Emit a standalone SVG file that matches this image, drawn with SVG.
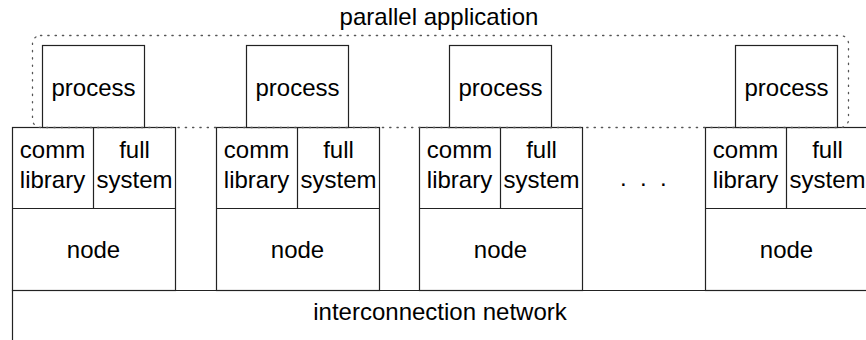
<svg xmlns="http://www.w3.org/2000/svg" width="866" height="340" viewBox="0 0 866 340">
<style>
.b{fill:#fff;stroke:#222;stroke-width:1.2}
.l{fill:none;stroke:#222;stroke-width:1.2}
.t{font-family:"Liberation Sans",Arial,sans-serif;font-size:24px;fill:#000;text-anchor:middle}
.d{fill:none;stroke:#555;stroke-width:1.3;stroke-dasharray:1.3 6;stroke-linecap:round}
</style>
<rect width="866" height="340" fill="#fff"/>
<g id="network">
<path class="l" d="M12.5 340V290.5H866"/>
<text class="t" x="440" y="320">interconnection network</text>
</g>
<g id="n1">
<rect class="b" x="12.5" y="127.5" width="163" height="163"/>
<path class="l" d="M12.5 208.5H175.5M93.5 127.5V208.5"/>
<rect class="b" x="42.5" y="45.5" width="102" height="82"/>
<text class="t" x="93.5" y="96">process</text>
<text class="t" x="52.5" y="158">comm</text><text class="t" x="52.5" y="188">library</text>
<text class="t" x="134.5" y="158">full</text><text class="t" x="134.5" y="188">system</text>
<text class="t" x="93.5" y="258">node</text>
</g>
<g id="n2">
<rect class="b" x="216.5" y="127.5" width="163" height="163"/>
<path class="l" d="M216.5 208.5H379.5M297.5 127.5V208.5"/>
<rect class="b" x="246.5" y="45.5" width="102" height="82"/>
<text class="t" x="297.5" y="96">process</text>
<text class="t" x="256.5" y="158">comm</text><text class="t" x="256.5" y="188">library</text>
<text class="t" x="338.5" y="158">full</text><text class="t" x="338.5" y="188">system</text>
<text class="t" x="297.5" y="258">node</text>
</g>
<g id="n3">
<rect class="b" x="419.5" y="127.5" width="163" height="163"/>
<path class="l" d="M419.5 208.5H582.5M500.5 127.5V208.5"/>
<rect class="b" x="449.5" y="45.5" width="102" height="82"/>
<text class="t" x="500.5" y="96">process</text>
<text class="t" x="459.5" y="158">comm</text><text class="t" x="459.5" y="188">library</text>
<text class="t" x="541.5" y="158">full</text><text class="t" x="541.5" y="188">system</text>
<text class="t" x="500.5" y="258">node</text>
</g>
<g id="n4">
<rect class="b" x="705.5" y="127.5" width="163" height="163"/>
<path class="l" d="M705.5 208.5H868.5M786.5 127.5V208.5"/>
<rect class="b" x="735.5" y="45.5" width="102" height="82"/>
<text class="t" x="786.5" y="96">process</text>
<text class="t" x="745.5" y="158">comm</text><text class="t" x="745.5" y="188">library</text>
<text class="t" x="827.5" y="158">full</text><text class="t" x="827.5" y="188">system</text>
<text class="t" x="786.5" y="258">node</text>
</g>
<g id="ellipsis">
<text class="t" x="645" y="186" style="letter-spacing:3.35px">. . .</text>
</g>
<g id="application">
<rect class="d" x="32.5" y="35.5" width="816" height="92" rx="8"/>
<text class="t" x="439" y="25">parallel application</text>
</g>
<g id="connectors"/>
</svg>
